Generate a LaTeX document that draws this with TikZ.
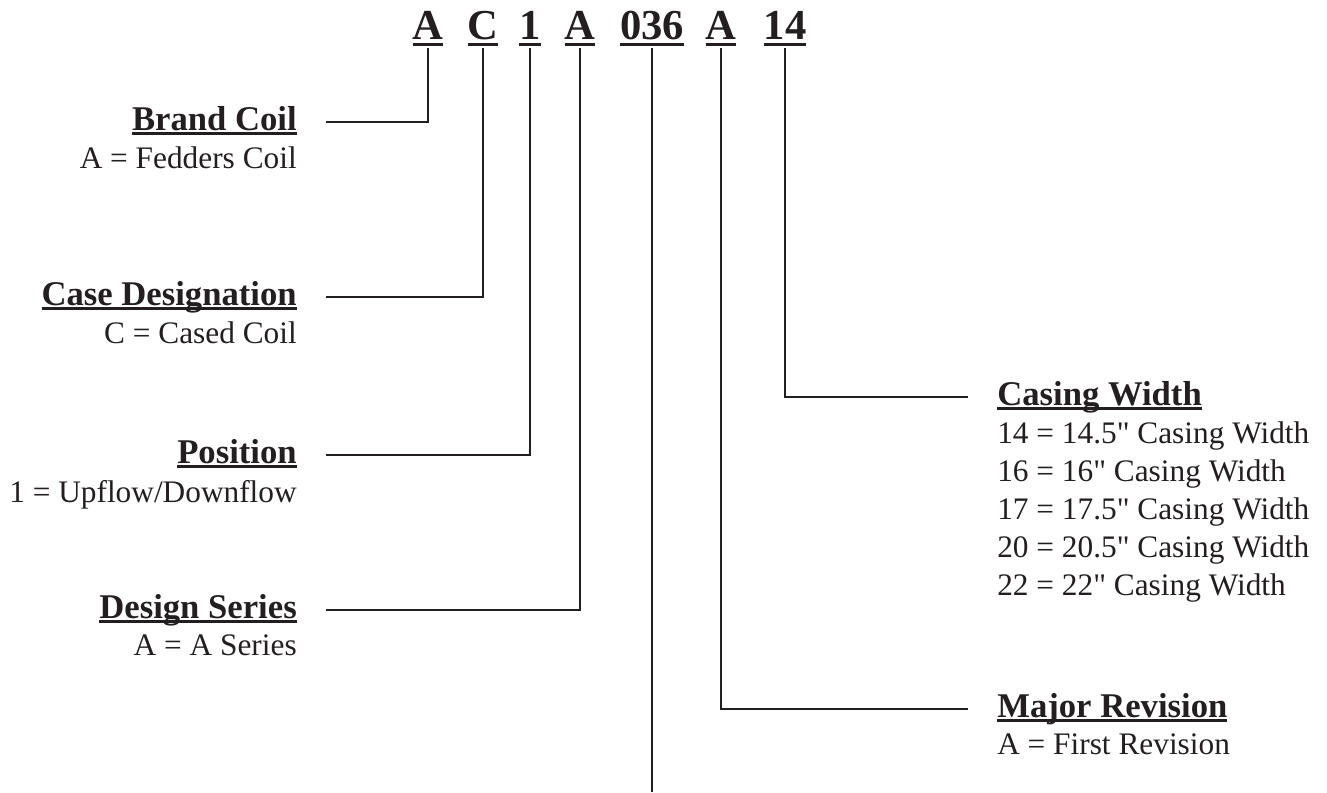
\documentclass[tikz,border=0pt]{standalone}
\usepackage{fontspec}
\setmainfont{Liberation Serif}[Ligatures=TeXOff]
\usepackage{xcolor}
\usepackage{tikz}
\usetikzlibrary{positioning,calc}
\definecolor{ink}{HTML}{231F20}
% underline at a fixed depth, through descenders
\newcommand\ulbox[1]{\setbox0\hbox{#1}\rlap{\rule[-0.13em]{\wd0}{0.06em}}\box0}
\tikzset{
	thick,
	>=latex,
	lead/.style = {
			draw       = ink,
			line width = 1.6pt,
		}
}

\begin{document}
\begin{tikzpicture}
			[x=0.75pt, y=-0.75pt,
				every node/.style={inner sep=0pt, text=ink},
				% STYLES
				% The code style is used for the parts of the model number
				code/.style={anchor=base, outer ysep=2pt,
						font=\fontsize{32}{32}\selectfont\bfseries},
				% The head style is used for the name of each part
				head/.style={text height=18pt, text depth=5.5pt,
						font=\fontsize{26}{30}\selectfont\bfseries},
				% The info style is used for the values of each part
				info/.style={font=\fontsize{23.5}{28.5}\selectfont}]

			\useasboundingbox (0,0) rectangle (1327,792);

			% Draw model number
			\node [code] (brand) at (428,40) {\ulbox{A}};
			\node [code] (case) at (483,40) {\ulbox{C}};
			\node [code] (pos) at (530,40) {\ulbox{1}};
			\node [code] (series) at (580,40) {\ulbox{A}};
			\node [code] (size) at (652,40) {\ulbox{036}};
			\node [code] (rev) at (721,40) {\ulbox{A}};
			\node [code] (width) at (785,40) {\ulbox{14}};

			% Draw parts on the left
			\node [head, anchor=base east] (hbrand) at (297,130) {\ulbox{Brand Coil}};
			\node [info, align=right, below left=7pt and 0pt of hbrand.south east] (ibrand)
			{A = Fedders Coil};
			\node [head, anchor=base east] (hcase) at (297,305) {\ulbox{Case Designation}};
			\node [info, align=right, below left=7pt and 0pt of hcase.south east] (icase)
			{C = Cased Coil};
			\node [head, anchor=base east] (hpos) at (297,463) {\ulbox{Position}};
			\node [info, align=right, below left=7pt and 0pt of hpos.south east] (ipos)
			{1 = Upflow/Downflow};
			\node [head, anchor=base east] (hseries) at (297,618) {\ulbox{Design Series}};
			\node [info, align=right, below left=7pt and 0pt of hseries.south east] (iseries)
			{A = A Series};

			% Draw parts on the right
			\node [head, anchor=base west] (hwidth) at (997,405) {\ulbox{Casing Width}};
			\node [info, align=left, below right=7pt and 0pt of hwidth.south west] (iwidth)
			{14 = 14.5" Casing Width\\
				16 = 16" Casing Width\\
				17 = 17.5" Casing Width\\
				20 = 20.5" Casing Width\\
				22 = 22" Casing Width};
			\node [head, anchor=base west] (hrev) at (997,717) {\ulbox{Major Revision}};
			\node [info, align=left, below right=7pt and 0pt of hrev.south west] (irev)
			{A = First Revision};

			\coordinate (tail) at (size.south |- 0,792);

			\draw[lead] (brand.south) |- ([xshift=22pt]hbrand.east);
			\draw[lead] (case.south) |- ([xshift=22pt]hcase.east);
			\draw[lead] (pos.south) |- ([xshift=22pt]hpos.east);
			\draw[lead] (series.south) |- ([xshift=22pt]hseries.east);
			\draw[lead] (size.south) -- (tail);
			\draw[lead] (width.south) |- ([xshift=-22pt]hwidth.west);
			\draw[lead] (rev.south) |- ([xshift=-22pt]hrev.west);
		\end{tikzpicture}
\end{document}
